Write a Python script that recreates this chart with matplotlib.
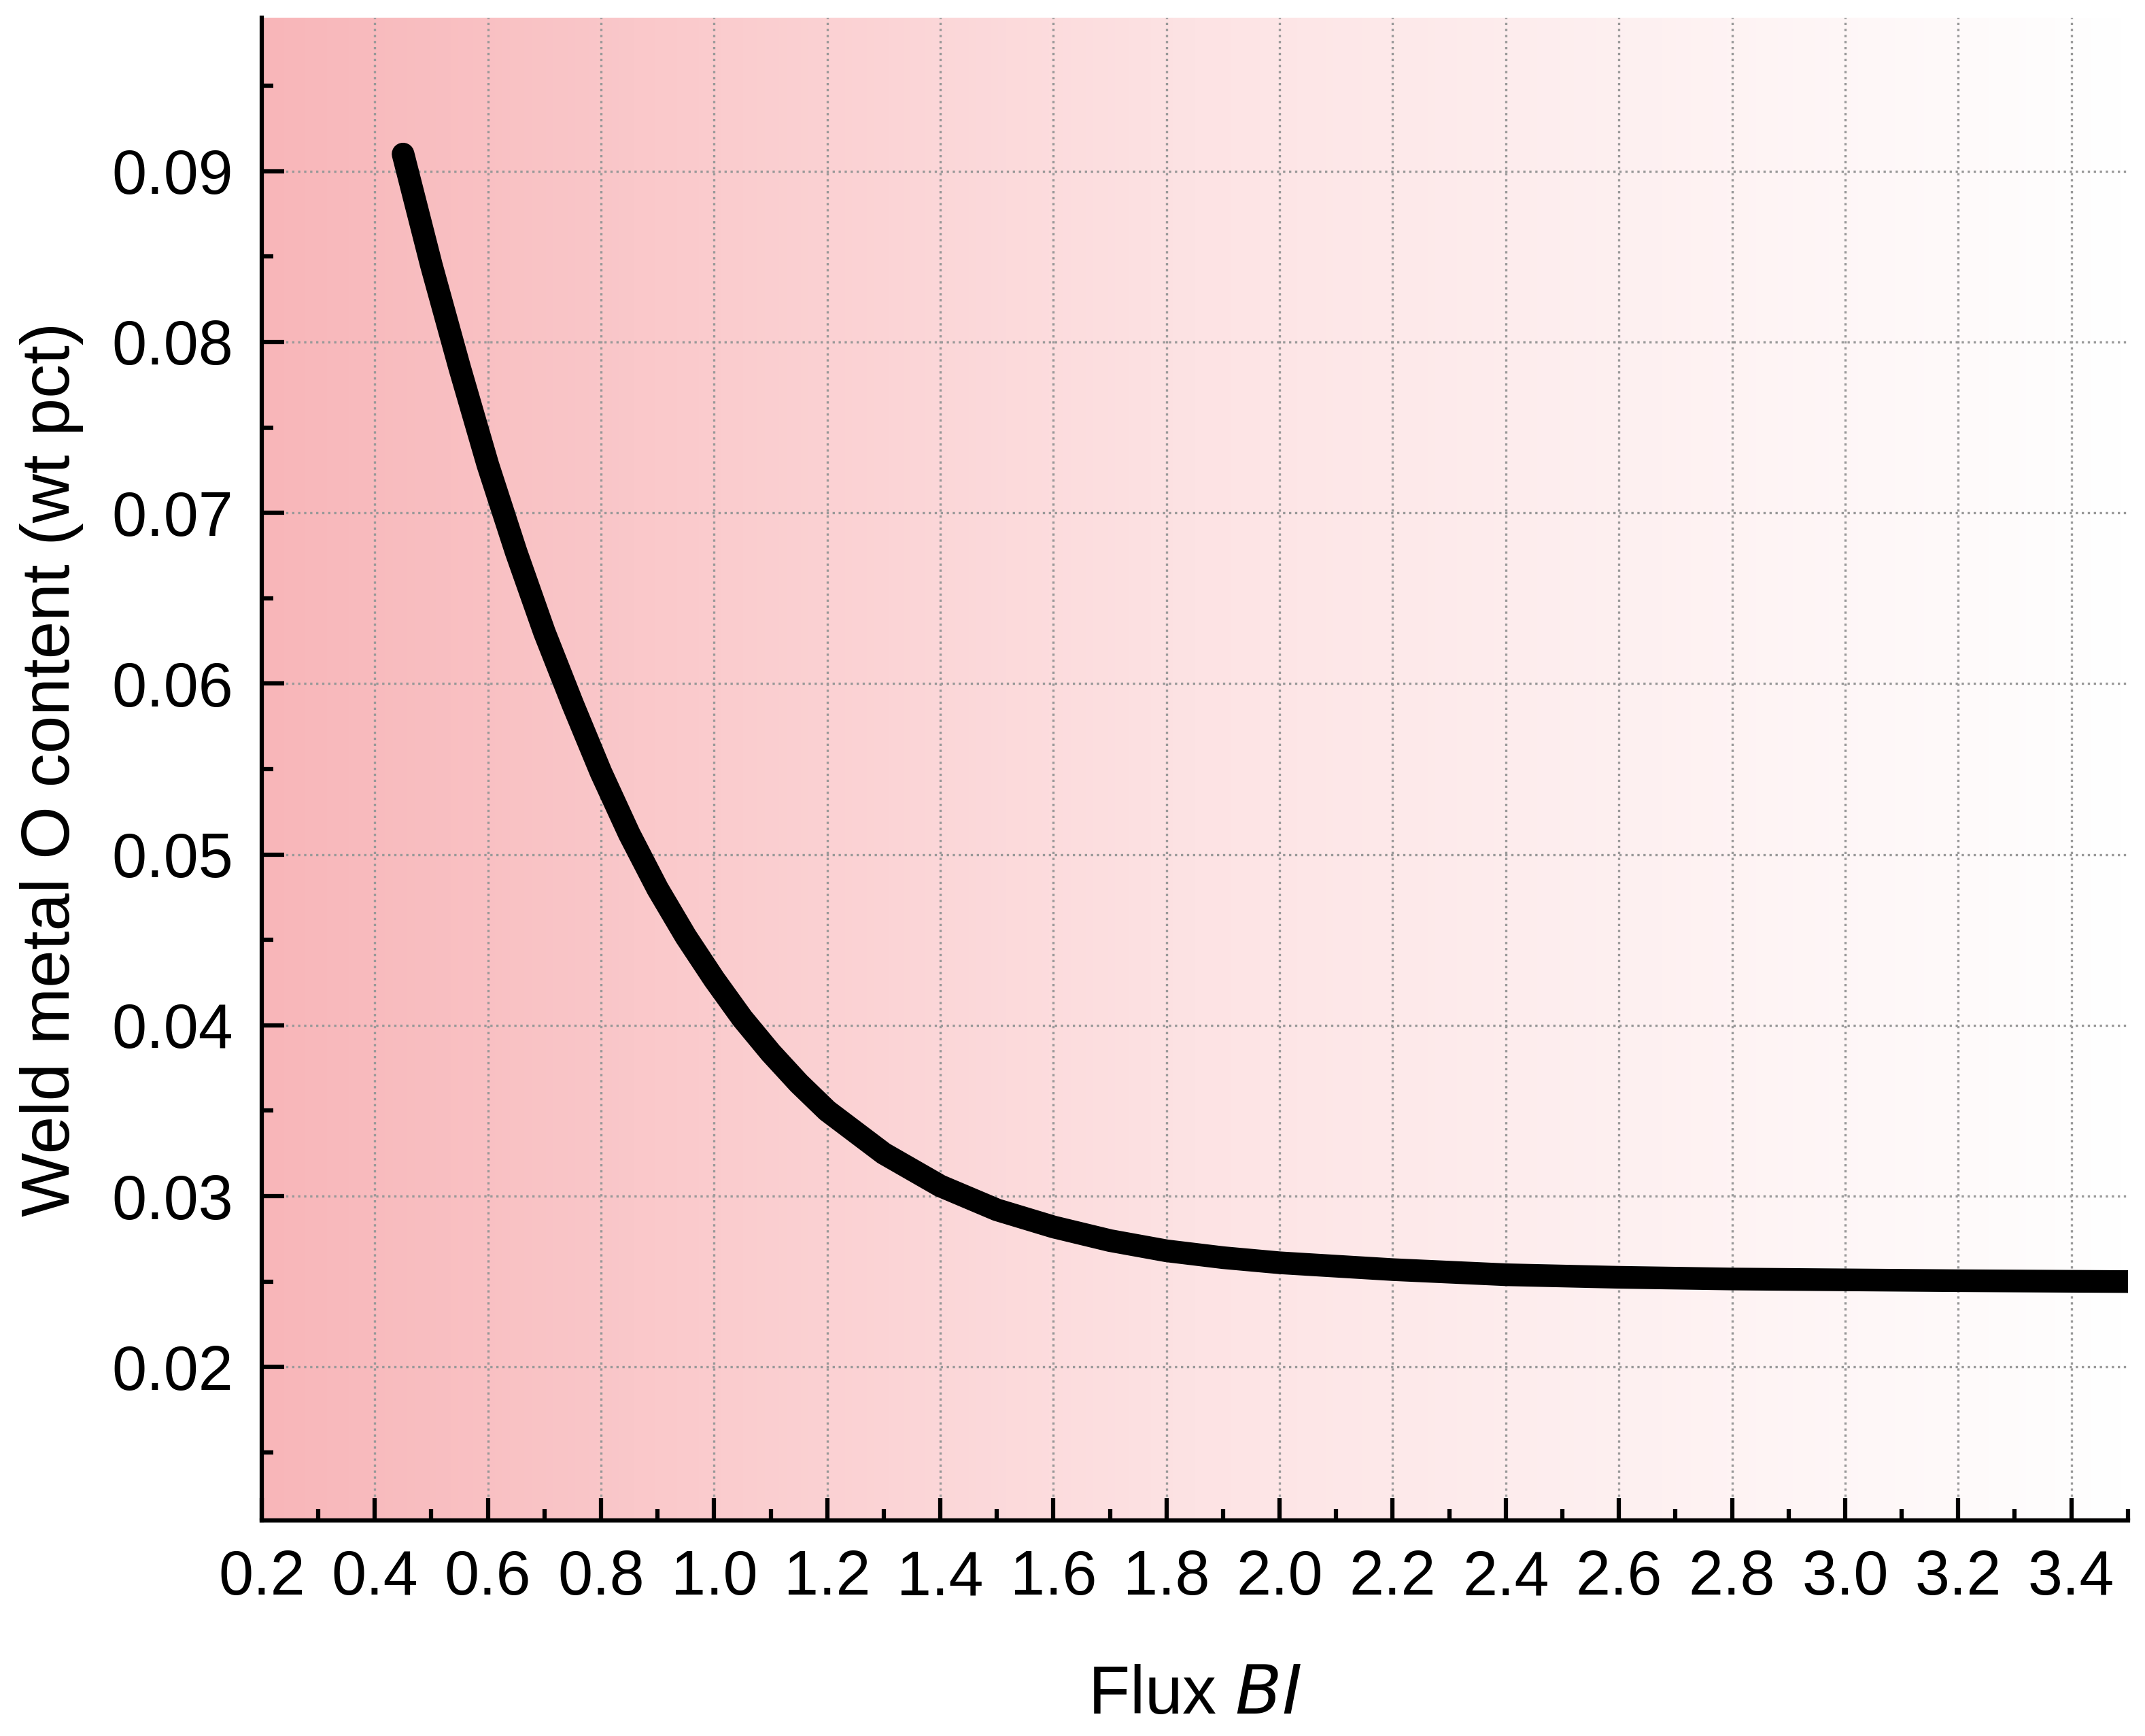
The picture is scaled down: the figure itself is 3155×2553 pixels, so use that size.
import numpy as np
import matplotlib
matplotlib.use("Agg")
import matplotlib.pyplot as plt
from matplotlib.colors import LinearSegmentedColormap
from matplotlib.ticker import MultipleLocator, FormatStrFormatter

plt.rcParams['font.family'] = ['Liberation Sans', 'DejaVu Sans']

flux_bi = [0.45,0.5,0.55,0.6,0.65,0.7,0.75,0.8,0.85,0.9,0.95,1.0,1.05,1.1,1.15,1.2,1.3,1.4,1.5,1.6,1.7,1.8,1.9,2.0,2.2,2.4,2.6,2.8,3.0,3.2,3.5]
oxygen = [0.091,0.0845,0.0785,0.0728,0.0677,0.0630,0.0588,0.0548,0.0512,0.0480,0.0452,0.0427,0.0404,0.0384,0.0366,0.0350,0.0325,0.0306,0.0292,0.0282,0.0274,0.0268,0.0264,0.0261,0.0257,0.0254,0.02525,0.02515,0.0251,0.02505,0.0250]

fig = plt.figure(figsize=(3155/300, 2553/300), dpi=300)
ax = fig.add_axes([0.122, 0.124, 0.870, 0.866])
cmap = LinearSegmentedColormap.from_list('p', ['#f8b6b9', '#fde3e4', '#ffffff'])
ax.imshow(np.linspace(0, 1, 256)[None, :], cmap=cmap, aspect='auto',
          extent=[0, 1, 0, 1], transform=ax.transAxes, zorder=0)
ax.plot(flux_bi, oxygen, color='black', lw=8, solid_capstyle='round',
        solid_joinstyle='round', zorder=3)
ax.set_xlim(0.2, 3.5)
ax.set_ylim(0.011, 0.099)
ax.xaxis.set_major_locator(MultipleLocator(0.2))
ax.xaxis.set_minor_locator(MultipleLocator(0.1))
ax.yaxis.set_minor_locator(MultipleLocator(0.005))
ax.xaxis.set_major_formatter(FormatStrFormatter('%.1f'))
ax.set_yticks(np.arange(0.02, 0.0951, 0.01))
ax.yaxis.set_major_formatter(FormatStrFormatter('%.2f'))
ax.grid(True, which='major', color='#999999', ls=':', lw=0.8, zorder=1)
for s in ['top', 'right']:
    ax.spines[s].set_visible(False)
for s in ['left', 'bottom']:
    ax.spines[s].set_linewidth(1.5)
ax.tick_params(which='both', direction='in', width=1.5, labelsize=22, pad=10)
ax.tick_params(which='major', length=8)
ax.tick_params(which='minor', length=4)
ax.set_xlabel('Flux $\\it{BI}$', fontsize=24, labelpad=20)
ax.set_ylabel('Weld metal O content (wt pct)', fontsize=24, labelpad=10)
fig.savefig('out.png', dpi=300)
